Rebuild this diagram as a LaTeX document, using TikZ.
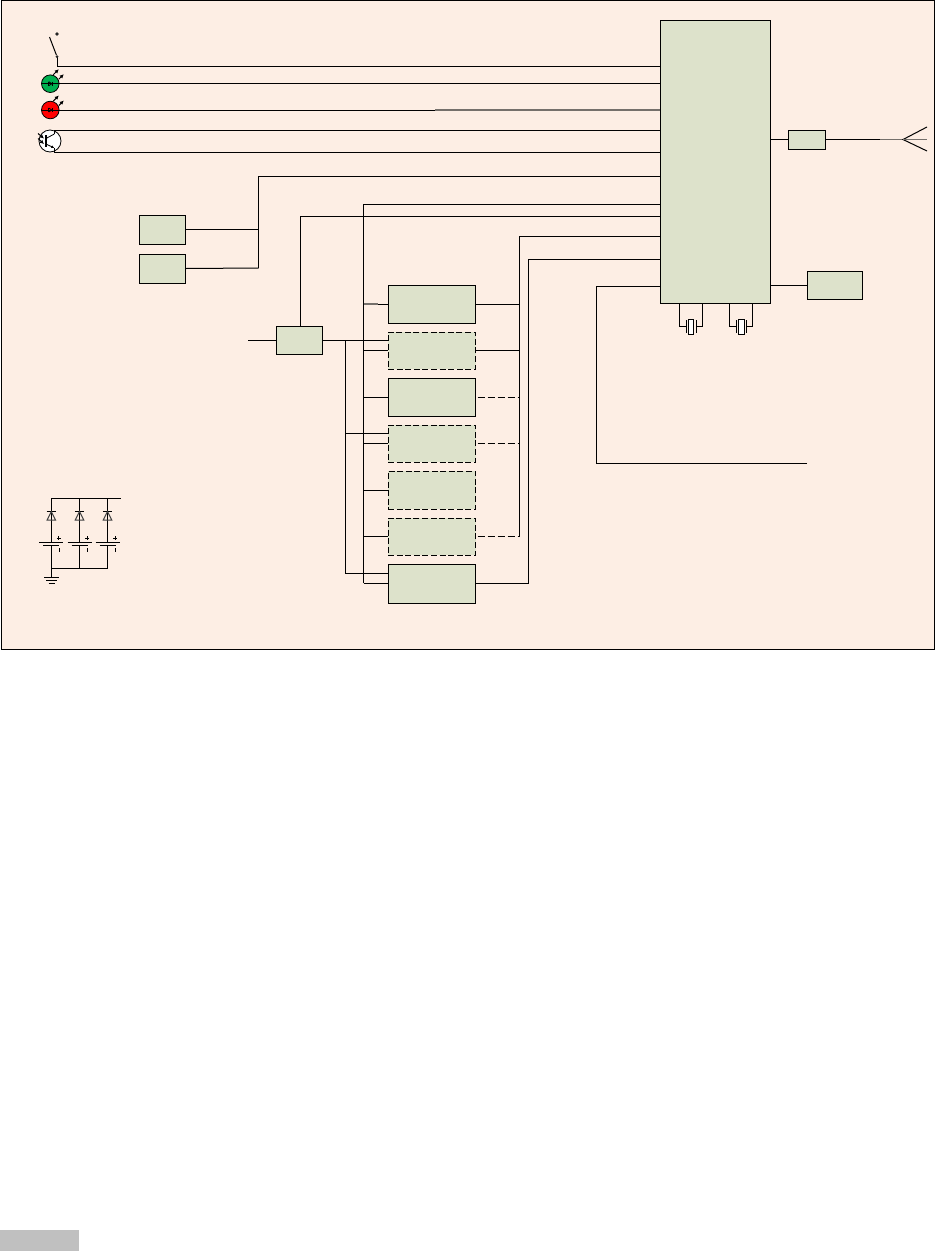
\documentclass[tikz,border=0pt]{standalone}
\usetikzlibrary{calc,arrows.meta}
\definecolor{panelbg}{HTML}{FDEEE4}
\definecolor{boxfill}{HTML}{DDE2CB}
\definecolor{ledgreen}{HTML}{00B050}
\definecolor{greybar}{HTML}{C0C0C0}
\definecolor{greywire}{HTML}{75706B}
\tikzset{
  wire/.style={draw=black,line width=1pt},
  greyseg/.style={draw=greywire,line width=1.2pt},
  dashwire/.style={wire,dash pattern=on 7pt off 3pt},
  blockbox/.style={draw=black,line width=1pt,fill=boxfill,inner sep=0pt,outer sep=0pt},
  dashbox/.style={blockbox,dash pattern=on 6pt off 2.6pt},
  led/.style={circle,draw=black,line width=.8pt,inner sep=0pt,outer sep=0pt,minimum size=17.6pt},
  tiny/.style={draw=black,line width=.8pt},
  tip/.style={draw=black,line width=1pt,-{Latex[length=4pt,width=4pt]}},
  dot/.style={circle,fill=black!85,inner sep=0pt,minimum size=3.6pt}
}
\begin{document}
\begin{tikzpicture}[x=1pt,y=-1pt]
\useasboundingbox (0,0) rectangle (935,1251);
\fill[white] (0,0) rectangle (935,1251);
\node[draw=black,line width=1pt,fill=panelbg,inner sep=0pt,minimum width=933pt,minimum height=649pt] (panel) at (467.5,324.5) {};
\node[fill=greybar,inner sep=0pt,minimum width=79pt,minimum height=21pt] (footer) at (39.5,1240.5) {};

% blocks
\node[blockbox,minimum width=110.5pt,minimum height=283pt] (main) at (715.25,161.5) {};
\node[blockbox,minimum width=37.5pt,minimum height=19pt] (rf) at (806.75,139.5) {};
\node[blockbox,minimum width=55.5pt,minimum height=28pt] (aux) at (834.75,285) {};
\node[blockbox,minimum width=46.5pt,minimum height=29pt] (inA) at (162.25,229.5) {};
\node[blockbox,minimum width=46.5pt,minimum height=29pt] (inB) at (162.25,268.5) {};
\node[blockbox,minimum width=46.5pt,minimum height=28pt] (reg) at (299.25,340) {};
\node[blockbox,minimum width=87.5pt,minimum height=38pt] (b1) at (431.75,304) {};
\node[dashbox,minimum width=87.5pt,minimum height=37pt] (b2) at (431.75,350.5) {};
\node[blockbox,minimum width=87.5pt,minimum height=38pt] (b3) at (431.75,397) {};
\node[dashbox,minimum width=87.5pt,minimum height=37pt] (b4) at (431.75,443.5) {};
\node[dashbox,minimum width=87.5pt,minimum height=38pt] (b5) at (431.75,490) {};
\node[dashbox,minimum width=87.5pt,minimum height=37pt] (b6) at (431.75,536.5) {};
\node[blockbox,minimum width=87.5pt,minimum height=39pt] (b7) at (431.75,583.5) {};

% free ends and junctions
\coordinate (swA) at (57,56.6);
\coordinate (swB) at (49.5,37);
\coordinate (l84) at (42,83.7);
\coordinate (l110) at (42,110);
\coordinate (g110) at (435,110);
\coordinate (tC) at (54.3,130.5);
\coordinate (tE) at (54.3,152.3);
\coordinate (j176) at (258.7,176);
\coordinate (j268) at (258.7,268);
\coordinate (j230) at (258.7,229.5);
\coordinate (j216) at (300,216);
\coordinate (j204) at (363.5,204);
\coordinate (busB) at (363.5,583);
\coordinate (busC) at (345.5,340.5);
\coordinate (busCb) at (345.5,573);
\coordinate (r236) at (519.5,236);
\coordinate (r536) at (519.5,536.5);
\coordinate (r259) at (528.5,259);
\coordinate (r583) at (528.5,583);
\coordinate (k286) at (596.5,286);
\coordinate (k464) at (596.5,463.7);
\coordinate (kEnd) at (807,463.7);
\coordinate (inEnd) at (248,340);
\coordinate (ant) at (903,139.5);
\coordinate (antF) at (880,139.5);
\coordinate (stubG) at (378,304);

% LED / transistor bodies
\node[led,fill=ledgreen] (ledG) at (50.3,83.7) {};
\node[led,fill=red] (ledR) at (50.3,110) {};
\node[led,fill=white,minimum size=22pt] (trans) at (50,141) {};

% wires to the main block
\draw[wire] (swA) -- (swA |- 0,66.5) -- (main.west |- 0,66.5);
\draw[wire] (l84) -- (main.west |- l84);
\draw[wire] (l110) -- (g110);
\draw[greyseg] (g110) -- (main.west |- g110);
\draw[wire] (tC) -- (main.west |- tC);
\draw[wire] (tE) -- (main.west |- tE);
\draw[wire] (j268) -- (j176) -- (main.west |- j176);
\draw[wire] (inA.east) -- (j230);
\draw[wire] (inB.east) -- (j268);
\draw[wire] (reg.north -| j216) -- (j216) -- (main.west |- j216);
\draw[wire] (busB) -- (j204) -- (main.west |- j204);
\draw[wire] (r536) -- (r236) -- (main.west |- r236);
\draw[wire] (r583) -- (r259) -- (main.west |- r259);
\draw[wire] (kEnd) -- (k464) -- (k286) -- (main.west |- k286);
\draw[wire] (main.east |- rf) -- (rf.west);
\draw[wire] (rf.east) -- (antF);
\draw[greyseg] (antF) -- (ant);
\draw[wire] (main.east |- aux) -- (aux.west);
\draw[wire] (inEnd) -- (reg.west);

% antenna
\draw[wire] (927,127) -- (ant) -- (927,151);
\draw[greyseg] (ant) -- (927,139.5);

% bus B to blocks
\draw[greyseg] (j204 |- b1) -- (stubG);
\draw[wire] (stubG) -- (b1.west);
\draw[wire] (j204 |- b2) -- (b2.west);
\draw[wire] (j204 |- b3) -- (b3.west);
\draw[wire] (j204 |- b4) -- (b4.west);
\draw[wire] (j204 |- b5) -- (b5.west);
\draw[wire] (j204 |- b6) -- (b6.west);
\draw[wire] (busB) -- (b7.west |- busB);
% bus C from regulator
\draw[wire] (reg.east |- busC) -- (b2.west |- busC);
\draw[wire] (busC) -- (busCb) -- (b7.west |- busCb);
\draw[wire] (busC |- 0,433.5) -- (b4.west |- 0,433.5);
% outputs
\draw[wire] (b1.east) -- (r236 |- b1);
\draw[wire] (b2.east) -- (r236 |- b2);
\draw[dashwire] ($(b3.east)+(2,0)$) -- (r236 |- b3);
\draw[dashwire] ($(b4.east)+(2,0)$) -- (r236 |- b4);
\draw[dashwire] ($(b6.east)+(2,0)$) -- (r536);
\draw[wire] (b7.east |- r583) -- (r583);

% crystals
\foreach \nm/\xa/\xb/\xc in {xa/679.5/702.5/691,xb/729.7/752.5/741.7}{
  \node[draw=black,line width=1pt,fill=white,inner sep=0pt,outer sep=0pt,minimum width=5.5pt,minimum height=15pt] (\nm) at (\xc,326.5) {};
  \draw[wire] (\xa,303) -- (\xa,326.3) -- (\xc-5,326.3);
  \draw[wire] (\xb,303) -- (\xb,326.3) -- (\xc+5,326.3);
  \draw[wire] (\xc-5,320) -- (\xc-5,333);
  \draw[wire] (\xc+5,320) -- (\xc+5,333);
}

% switch
\node[dot] (swTop) at (57,34) {};
\node[dot,minimum size=3pt] (swPin) at (swA) {};
\draw[wire] (swB) -- (swPin);

% led details
\foreach \c in {ledG,ledR}{
  \draw[wire] ($(\c)+(-8.5,0)$) -- ($(\c)+(8.5,0)$);
  \draw[tiny] ($(\c)+(-1.6,-2)$) -- ($(\c)+(-1.6,2)$);
  \draw[tiny] ($(\c)+(1.6,-2)$) -- ($(\c)+(1.6,2)$);
  \draw[tiny] ($(\c)+(-1.6,-2)$) -- ($(\c)+(1.6,0)$) -- ($(\c)+(-1.6,2)$);
  \draw[tip] ($(\c)+(3,-9)$) -- ($(\c)+(8.5,-14.5)$);
  \draw[tip] ($(\c)+(8.5,-4.5)$) -- ($(\c)+(13.5,-9.5)$);
}

% transistor details
\draw[line width=1.2pt] (46,135) -- (46,147);
\draw[tiny] (46,138.5) -- (54.3,134);
\draw[tiny,-{Latex[length=3pt,width=3pt]}] (46,144) -- (54.3,148);
\draw[tip] (38,133.5) -- (44,138.5);
\draw[tip] (38,138.5) -- (44,144);
\draw[wire] (tC) -- (54.3,134);
\draw[wire] (tE) -- (54.3,148);

% battery bank
\coordinate (batTop) at (51.3,498.3);
\coordinate (batEnd) at (121,498.3);
\coordinate (batLow) at (51.3,568.5);
\coordinate (gnd) at (51.3,577.5);
\draw[wire] (batTop) -- (batEnd);
\foreach \x in {51.3,79.5,107.5}{
  \draw[wire] (\x,498.3) -- (\x,542);
  \draw[wire] (\x,545.7) -- (\x,568.5);
  \draw[line width=1pt] (\x-4.7,511.5) -- (\x+4.7,511.5);
  \draw[draw=black!75,line width=1pt] (\x,511.5) -- (\x-4.2,520) -- (\x+4.2,520) -- cycle;
  \draw[line width=1pt] (\x-12,542) -- (\x+12,542);
  \draw[line width=1pt] (\x-8,545.7) -- (\x+8,545.7);
  \draw[line width=.8pt] (\x+7.5,536) -- (\x+7.5,540);
  \draw[line width=.8pt] (\x+5.5,538) -- (\x+9.5,538);
  \draw[line width=.8pt] (\x+8,548) -- (\x+8,551.5);
}
\draw[wire] (batLow) -- (107.5,568.5);
\draw[wire] (batLow) -- (gnd);
\draw[line width=1pt] (44,577.5) -- (59,577.5);
\draw[line width=1pt] (46,580.5) -- (57,580.5);
\draw[line width=1pt] (48.5,583) -- (54.5,583);
\end{tikzpicture}
\end{document}
